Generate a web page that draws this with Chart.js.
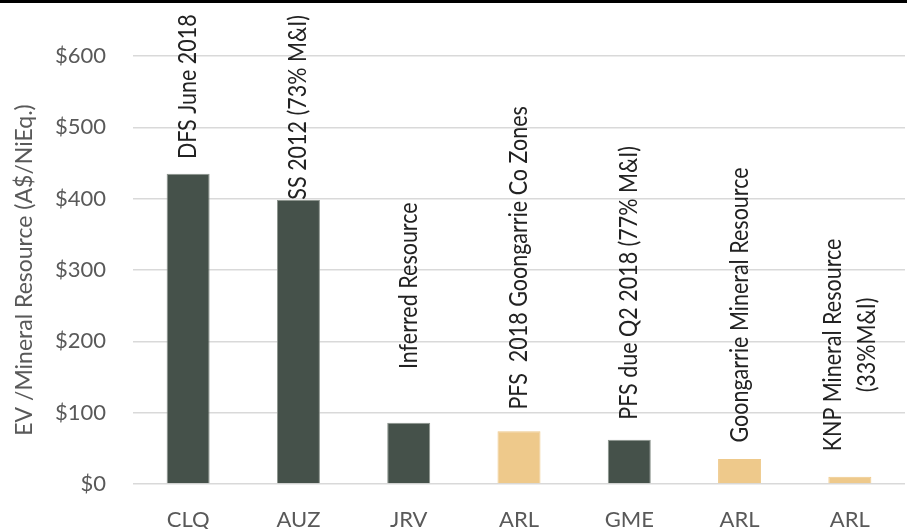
<!DOCTYPE html>
<html>
<head>
<meta charset="utf-8">
<script src="https://cdn.jsdelivr.net/npm/chart.js@4.4.1/dist/chart.umd.min.js"></script>
<style>
    html, body { margin: 0; padding: 0; background: #fff; }
    #wrap { position: relative; width: 907px; height: 529px; overflow: hidden; }
    #topline { position: absolute; left: 0; top: 0; width: 907px; height: 3px; background: #000; }
</style>
</head>
<body>
<div id="wrap">
    <canvas id="chart" width="907" height="529"></canvas>
    <div id="topline"></div>
</div>
<script>
// data
const companies = ['CLQ', 'AUZ', 'JRV', 'ARL', 'GME', 'ARL', 'ARL'];
const evPerResource = [435, 398, 86, 74, 62, 35, 10];
const isArl = [false, false, false, true, false, true, true];
const notes = [
    'DFS June 2018',
    'SS 2012 (73% M&I)',
    'Inferred Resource',
    'PFS  2018 Goongarrie Co Zones',
    'PFS due Q2 2018 (77% M&I)',
    'Goongarrie Mineral Resource',
    'KNP Mineral Resource\n(33%M&I)'
];
// value on the y axis where each note is centred
const noteCentres = [557, 528, 278, 317, 282, 251, 195];
const yMin = 0, yMax = 600, yStep = 100;

const darkColor = '#45514a';
const tanColor = '#eec98b';
const fontName = 'Lato, "Open Sans", sans-serif';

const notePlugin = {
    id: 'notes',
    afterDatasetsDraw(chart) {
        const ctx = chart.ctx;
        const xs = chart.scales.x, ys = chart.scales.y;
        ctx.save();
        ctx.font = '21.5px ' + fontName;
        ctx.fillStyle = '#222';
        ctx.textAlign = 'center';
        ctx.textBaseline = 'middle';
        notes.forEach((txt, i) => {
            const lines = txt.split('\n');
            ctx.save();
            ctx.translate(xs.getPixelForValue(i), ys.getPixelForValue(noteCentres[i]));
            ctx.scale(1.15, 1);
            ctx.rotate(-Math.PI / 2);
            lines.forEach((ln, k) => {
                ctx.fillText(ln, 0, (k - (lines.length - 1) / 2) * 30);
            });
            ctx.restore();
        });
        ctx.restore();
    }
};

const ctx = document.getElementById('chart').getContext('2d');
new Chart(ctx, {
    type: 'bar',
    data: {
        labels: companies,
        datasets: [{
            data: evPerResource,
            backgroundColor: isArl.map(a => a ? tanColor : darkColor),
            borderColor: isArl.map(a => a ? tanColor : '#8c948d'),
            borderWidth: 1,
            categoryPercentage: 1,
            barPercentage: 0.39
        }]
    },
    options: {
        responsive: false,
        animation: false,
        layout: { padding: { top: 56, right: 2, left: 0, bottom: 0 } },
        plugins: {
            legend: { display: false },
            tooltip: { enabled: false }
        },
        scales: {
            x: {
                grid: { display: false, drawTicks: false },
                border: { display: false },
                ticks: {
                    color: '#595959',
                    font: { family: fontName, size: 22 },
                    padding: 23,
                    maxRotation: 0
                },
                afterFit(scale) { scale.height = 45; }
            },
            y: {
                min: yMin,
                max: yMax,
                grid: { color: '#d9d9d9', lineWidth: 1.5, drawTicks: false },
                border: { display: false },
                ticks: {
                    stepSize: yStep,
                    color: '#595959',
                    font: { family: fontName, size: 22 },
                    padding: 27,
                    callback: v => '$' + v
                },
                title: {
                    display: true,
                    text: 'EV /Mineral Resource (A$/NiEq.)',
                    color: '#595959',
                    font: { family: fontName, size: 23 },
                    padding: { top: 11, bottom: 0 }
                },
                afterFit(scale) { scale.width = 133; }
            }
        }
    },
    plugins: [notePlugin]
});
</script>
</body>
</html>
